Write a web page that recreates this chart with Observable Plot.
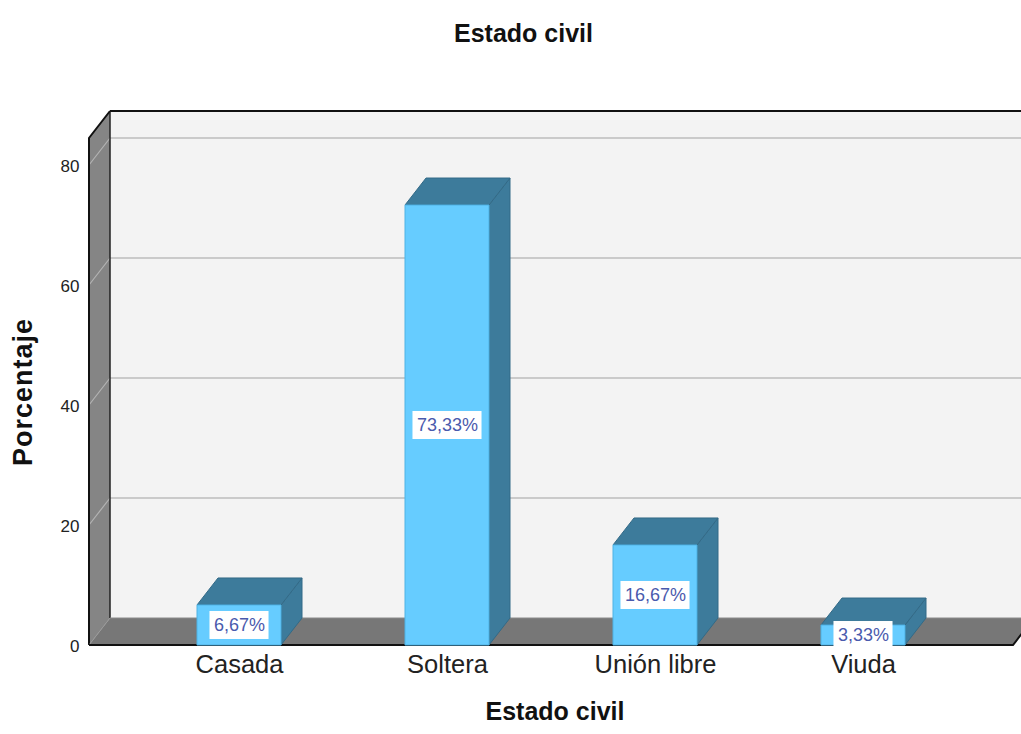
<!DOCTYPE html>
<html><head><meta charset="utf-8">
<script src="https://cdn.jsdelivr.net/npm/d3@7"></script>
<script src="https://cdn.jsdelivr.net/npm/@observablehq/plot@0.6"></script>
<style>body{margin:0;background:#fff;} svg{display:block;}</style>
</head><body><div id="chart"></div>
<script>
const title = "Estado civil";
const xTitle = "Estado civil";
const yTitle = "Porcentaje";
const categories = ["Casada", "Soltera", "Unión libre", "Viuda"];
const percentages = [6.67, 73.33, 16.67, 3.33];
const valueLabels = ["6,67%", "73,33%", "16,67%", "3,33%"];
const yTicks = [0, 20, 40, 60, 80];

const data = categories.map((c, i) => ({category: c, value: percentages[i], label: valueLabels[i]}));

const DX = 21, DY = -27;              // 3D depth offset (px)
const FONT = "Liberation Sans, Arial, sans-serif";
const PAD_IN = 0.596, PAD_OUT = 0.519;

function bandwidthOf(x, dims) {
  if (typeof x.bandwidth === "function") return x.bandwidth();
  if (typeof x.bandwidth === "number") return x.bandwidth;
  const s = d3.scaleBand(categories, [dims.marginLeft, dims.width - dims.marginRight]).paddingInner(PAD_IN).paddingOuter(PAD_OUT);
  return s.bandwidth();
}

function poly(g, pts, fill, stroke, sw) {
  g.append("path").attr("d", "M" + pts.map(p => p.join(",")).join("L") + "Z")
    .attr("fill", fill).attr("stroke", stroke || "none").attr("stroke-width", sw || 1).attr("stroke-linejoin", "round");
}

// 3D walls, floor and gridlines
function frame3d(index, scales, values, dims) {
  const {y} = scales;
  const x0 = dims.marginLeft, x1 = dims.width - dims.marginRight;
  const yb = y(0), yt = dims.marginTop;
  const g = d3.create("svg:g");
  // back wall
  poly(g, [[x0 + DX, yt + DY], [x1 + DX, yt + DY], [x1 + DX, yb + DY], [x0 + DX, yb + DY]], "#f3f3f3");
  for (const t of yTicks.filter(t => t > 0)) {
    g.append("line").attr("x1", x0 + DX).attr("x2", x1 + DX).attr("y1", y(t) + DY).attr("y2", y(t) + DY)
      .attr("stroke", "#cacaca").attr("stroke-width", 2);
  }
  g.append("line").attr("x1", x0 + DX).attr("x2", x1 + DX).attr("y1", yt + DY).attr("y2", yt + DY)
    .attr("stroke", "#111").attr("stroke-width", 2);
  // left wall
  poly(g, [[x0, yb], [x0, yt], [x0 + DX, yt + DY], [x0 + DX, yb + DY]], "#858585");
  for (const t of yTicks.filter(t => t > 0)) {
    g.append("line").attr("x1", x0).attr("x2", x0 + DX).attr("y1", y(t)).attr("y2", y(t) + DY)
      .attr("stroke", "#b4b4b4").attr("stroke-width", 1.2);
  }
  g.append("line").attr("x1", x0 + DX).attr("x2", x0 + DX).attr("y1", yt + DY).attr("y2", yb + DY).attr("stroke", "#222").attr("stroke-width", 1.5);
  g.append("path").attr("d", `M${x0},${yb}L${x0},${yt}L${x0 + DX},${yt + DY}`).attr("fill", "none").attr("stroke", "#111").attr("stroke-width", 2);
  // floor
  poly(g, [[x0, yb], [x1, yb], [x1 + DX, yb + DY], [x0 + DX, yb + DY]], "#777777");
  g.append("line").attr("x1", x0 + DX).attr("x2", x1 + DX).attr("y1", yb + DY).attr("y2", yb + DY).attr("stroke", "#8a8a8a").attr("stroke-width", 1);
  g.append("line").attr("x1", x0).attr("x2", x0 + DX).attr("y1", yb).attr("y2", yb + DY).attr("stroke", "#999").attr("stroke-width", 1);
  g.append("path").attr("d", `M${x0},${yb}L${x1},${yb}L${x1 + DX},${yb + DY}`).attr("fill", "none").attr("stroke", "#111").attr("stroke-width", 2);
  return g.node();
}

// 3D bars
function bars3d(index, scales, values, dims) {
  const {x, y} = scales;
  const bw = bandwidthOf(x, dims);
  const g = d3.create("svg:g");
  for (const d of data) {
    const l = x(d.category), r = l + bw;
    const top = y(d.value), bot = y(0);
    // side
    poly(g, [[r, bot], [r, top], [r + DX, top + DY], [r + DX, bot + DY]], "#3d7b9b", "#336a87", 1);
    // top
    poly(g, [[l, top], [r, top], [r + DX, top + DY], [l + DX, top + DY]], "#3d7b9b", "#336a87", 1);
    // front
    poly(g, [[l, bot], [l, top], [r, top], [r, bot]], "#66ccff", "#4fb2e4", 1);
  }
  return g.node();
}

// white boxes behind value labels
function labelBoxes(index, scales, values, dims) {
  const {x, y} = scales;
  const bw = bandwidthOf(x, dims);
  const ctx = document.createElement("canvas").getContext("2d");
  ctx.font = "18px " + FONT;
  const g = d3.create("svg:g");
  for (const d of data) {
    const cx = x(d.category) + bw / 2;
    const cy = y(d.value / 2);
    const w = ctx.measureText(d.label).width + 8;
    const h = 28;
    g.append("rect").attr("x", cx - w / 2).attr("y", cy - h / 2).attr("width", w).attr("height", h)
      .attr("fill", "#ffffff");
  }
  return g.node();
}

const chart = Plot.plot({
  width: 1021,
  height: 734,
  marginLeft: 89,
  marginRight: 8,
  marginTop: 138,
  marginBottom: 89,
  style: {fontFamily: FONT, background: "#ffffff", overflow: "visible"},
  x: {type: "band", domain: categories, paddingInner: PAD_IN, paddingOuter: PAD_OUT, axis: null},
  y: {domain: [0, 84.5], axis: null},
  marks: [
    frame3d,
    bars3d,
    labelBoxes,
    Plot.text(data, {x: "category", y: d => d.value / 2, text: "label", fontSize: 18, fill: "#4a5aad"}),
    Plot.text(yTicks, {y: d => d, text: d => String(d), frameAnchor: "left", dx: -10, dy: 1, textAnchor: "end", fontSize: 17, fill: "#222"}),
    Plot.text(categories, {x: d => d, text: d => d, frameAnchor: "bottom", dy: 27, fontSize: 25.5, fill: "#222"}),
    Plot.text([title], {text: d => d, frameAnchor: "top", dx: -28, dy: -114, fontSize: 25, fontWeight: "bold", fill: "#111"}),
    Plot.text([xTitle], {text: d => d, frameAnchor: "bottom", dx: 3.5, dy: 74, fontSize: 25, fontWeight: "bold", fill: "#111"}),
    Plot.text([yTitle], {text: d => d, frameAnchor: "left", textAnchor: "middle", dx: -66, rotate: -90, fontSize: 27, fontWeight: "bold", fill: "#111"})
  ]
});
document.getElementById("chart").append(chart);
d3.select(chart).selectAll("text").filter(function() { return this.textContent === yTitle; }).attr("letter-spacing", "1px");
</script></body></html>
